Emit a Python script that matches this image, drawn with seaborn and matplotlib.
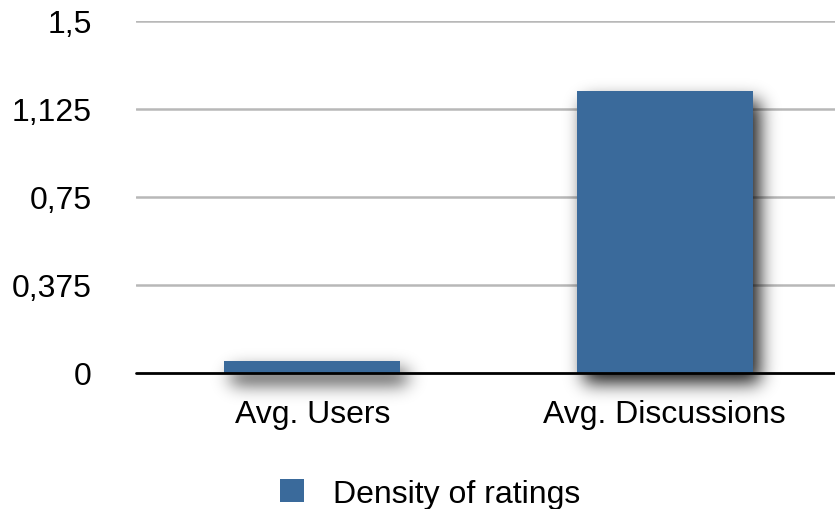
import matplotlib
matplotlib.use("Agg")
import matplotlib.pyplot as plt
from matplotlib.patches import Patch
import numpy as np
import pandas as pd
import seaborn as sb

categories = ["Avg. Users", "Avg. Discussions"]
density = [0.051, 1.2]
series_name = "Density of ratings"
yticks = [0, 0.375, 0.75, 1.125, 1.5]
ytick_labels = ["0", "0,375", "0,75", "1,125", "1,5"]

bar_color = "#3a6a9b"

df = pd.DataFrame({"category": categories, "value": density})

sb.set_style("white")
plt.rcParams["font.family"] = ["Liberation Sans", "DejaVu Sans"]
plt.rcParams["text.color"] = "black"
plt.rcParams["xtick.color"] = "black"
plt.rcParams["ytick.color"] = "black"

fig = plt.figure(figsize=(8.35, 5.1), dpi=100)
ax = fig.add_axes([0.163, 0.267, 0.844, 0.69])

sb.barplot(data=df, x="category", y="value", color=bar_color, saturation=1,
           width=0.5, ax=ax, zorder=3)
for bar in ax.patches:
    bar.set_edgecolor("none")

xlim = (-0.5, 1.5)
ylim = (0, 1.5)

# soft drop shadow: offset bar footprints, blurred, drawn under the bars
px_w, px_h = 705, 352
dx = (xlim[1] - xlim[0]) / px_w
dy = (ylim[1] - ylim[0]) / px_h
ext = (xlim[0], xlim[1], ylim[0] - 60 * dy, ylim[1] + 10 * dy)
nx = int(round((ext[1] - ext[0]) / dx))
ny = int(round((ext[3] - ext[2]) / dy))
xs = ext[0] + (np.arange(nx) + 0.5) * dx
ys = ext[2] + (np.arange(ny) + 0.5) * dy
mask = np.zeros((ny, nx))
off_x, off_y = 7 * dx, -10 * dy
for bar in ax.patches:
    x0, w, h = bar.get_x(), bar.get_width(), bar.get_height()
    inx = (xs >= x0 + off_x) & (xs <= x0 + w + off_x)
    iny = (ys >= off_y) & (ys <= h + off_y)
    mask[np.ix_(iny, inx)] = 1.0
sigma = 9
k = np.arange(-3 * sigma, 3 * sigma + 1)
kern = np.exp(-0.5 * (k / sigma) ** 2)
kern /= kern.sum()
blur = np.apply_along_axis(lambda r: np.convolve(r, kern, mode="same"), 1, mask)
blur = np.apply_along_axis(lambda c: np.convolve(c, kern, mode="same"), 0, blur)
rgba = np.zeros((ny, nx, 4))
rgba[..., 3] = np.clip(blur * 0.9, 0, 1)
im = ax.imshow(rgba, extent=ext, origin="lower", aspect="auto", zorder=2,
               interpolation="bilinear")
im.set_clip_on(False)

ax.set_xlim(*xlim)
ax.set_ylim(*ylim)
ax.set_yticks(yticks)
ax.set_yticklabels(ytick_labels)
for y in yticks[1:]:
    ax.axhline(y, color="#b8b8b8", lw=1.8, zorder=1)
ax.axhline(0, color="black", lw=2, zorder=5, clip_on=False)

for s in ax.spines.values():
    s.set_visible(False)
ax.tick_params(axis="y", length=0, pad=32, labelsize=23, labelcolor="black")
ax.tick_params(axis="x", length=0, pad=19, labelsize=23, labelcolor="black")
ax.set_xlabel("")
ax.set_ylabel("")

handle = Patch(facecolor=bar_color, edgecolor="none")
fig.legend([handle], [series_name], loc="center", bbox_to_anchor=(0.515, 0.03),
           frameon=False, fontsize=23, handlelength=0.75, handleheight=0.75,
           handletextpad=0.9, labelcolor="black")

fig.savefig("out.png", dpi=100)
